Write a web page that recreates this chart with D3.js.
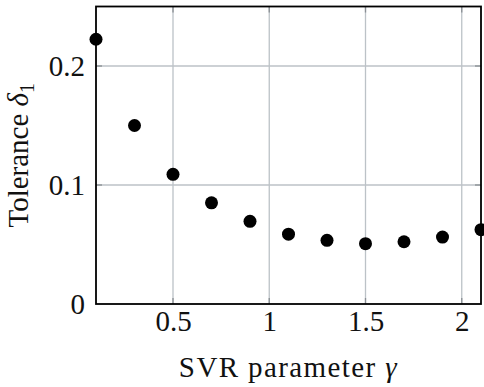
<!DOCTYPE html>
<html>
<head>
<meta charset="utf-8">
<script src="https://cdn.jsdelivr.net/npm/d3@7"></script>
<style>
  body { margin: 0; background: #fff; }
</style>
</head>
<body>
<svg id="chart" width="484" height="387"></svg>
<script>
// SVR parameter gamma vs tolerance delta_1
const gammas = [0.1, 0.3, 0.5, 0.7, 0.9, 1.1, 1.3, 1.5, 1.7, 1.9, 2.1];
const tolerances = [0.2225, 0.150, 0.109, 0.085, 0.0695, 0.0587, 0.0535, 0.0507, 0.0523, 0.0562, 0.0625];
const xTicks = [0.5, 1, 1.5, 2];
const yTicks = [0, 0.1, 0.2];

const svg = d3.select("#chart");
const pLeft = 96, pRight = 481, pTop = 6.5, pBottom = 304;
const fontSize = 29;
const serif = "'Liberation Serif', serif";

const x = d3.scaleLinear().domain([0.1, 2.1]).range([pLeft, pRight]);
const y = d3.scaleLinear().domain([0, 0.25]).range([pBottom, pTop]);

// grid lines
const grid = svg.append("g");
grid.selectAll(".gx").data(xTicks).enter().append("line")
  .attr("x1", d => x(d)).attr("x2", d => x(d))
  .attr("y1", pTop).attr("y2", pBottom)
  .attr("stroke", "#bcc2c7").attr("stroke-width", 1.3);
grid.selectAll(".gy").data(yTicks.filter(d => d > 0)).enter().append("line")
  .attr("x1", pLeft).attr("x2", pRight)
  .attr("y1", d => y(d)).attr("y2", d => y(d))
  .attr("stroke", "#bcc2c7").attr("stroke-width", 1.3);

// small inward tick marks on all four sides
const tk = 6;
xTicks.forEach(d => {
  [[pBottom, pBottom - tk], [pTop, pTop + tk]].forEach(p => {
    grid.append("line").attr("x1", x(d)).attr("x2", x(d))
      .attr("y1", p[0]).attr("y2", p[1])
      .attr("stroke", "#8a8f94").attr("stroke-width", 1.3);
  });
});
yTicks.filter(d => d > 0).forEach(d => {
  [[pLeft, pLeft + tk], [pRight, pRight - tk]].forEach(p => {
    grid.append("line").attr("y1", y(d)).attr("y2", y(d))
      .attr("x1", p[0]).attr("x2", p[1])
      .attr("stroke", "#8a8f94").attr("stroke-width", 1.3);
  });
});

// axes (labels only)
const xAxis = d3.axisBottom(x).tickValues(xTicks).tickSize(0).tickPadding(0)
  .tickFormat(d3.format("~g"));
const yAxis = d3.axisLeft(y).tickValues(yTicks).tickSize(0).tickPadding(11)
  .tickFormat(d3.format("~g"));

const gx = svg.append("g").attr("transform", "translate(0," + pBottom + ")").call(xAxis);
const gy = svg.append("g").attr("transform", "translate(" + pLeft + ",0)").call(yAxis);
[gx, gy].forEach(g => {
  g.select(".domain").remove();
  g.attr("font-family", serif).attr("font-size", fontSize);
  g.selectAll("text").style("font-family", serif)
    .style("font-size", fontSize + "px").attr("fill", "#111");
});
gx.selectAll("text").attr("y", 27).attr("dy", 0);
gy.selectAll("text").attr("dy", "0.34em");

// frame
svg.append("rect")
  .attr("x", pLeft).attr("y", pTop)
  .attr("width", pRight - pLeft).attr("height", pBottom - pTop)
  .attr("fill", "none").attr("stroke", "#000").attr("stroke-width", 1.8);

// points
svg.append("g").selectAll("circle")
  .data(gammas.map((g, i) => ({g: g, t: tolerances[i]})))
  .enter().append("circle")
  .attr("cx", d => x(d.g))
  .attr("cy", d => y(d.t))
  .attr("r", 6.5)
  .attr("fill", "#000");

// axis labels
const xl = svg.append("text")
  .attr("x", (pLeft + pRight) / 2).attr("y", 377)
  .attr("text-anchor", "middle")
  .attr("fill", "#111")
  .style("font-family", serif)
  .style("font-size", fontSize + "px")
  .style("letter-spacing", "1.4px");
xl.append("tspan").text("SVR parameter ");
xl.append("tspan").style("font-style", "italic").text("γ");

const yl = svg.append("text")
  .attr("transform", "translate(28," + ((pTop + pBottom) / 2) + ") rotate(-90)")
  .attr("text-anchor", "middle")
  .attr("fill", "#111")
  .style("font-family", serif)
  .style("font-size", fontSize + "px");
yl.append("tspan").text("Tolerance ");
yl.append("tspan").style("font-style", "italic").text("δ");
yl.append("tspan").attr("dy", 6).style("font-size", "20px").text("1");
</script>
</body>
</html>
